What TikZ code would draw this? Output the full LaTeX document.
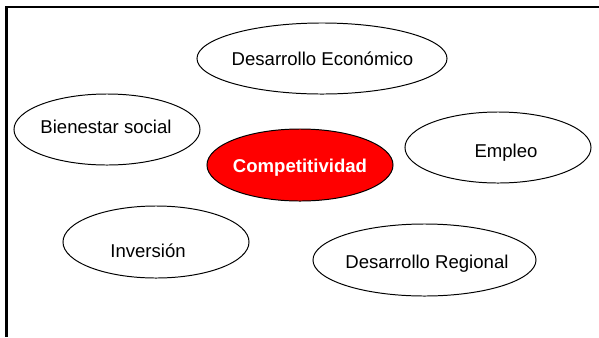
\documentclass[tikz,border=0pt]{standalone}
\usepackage{fontspec}
\setmainfont{Liberation Sans}
\usetikzlibrary{shapes.geometric,positioning}

\begin{document}
\begin{tikzpicture}[x=0.025cm,y=-0.025cm,font=\fontsize{13.2}{15}\selectfont,
		bubble/.style={draw,ellipse,line width=0.7pt,inner sep=0pt,minimum width=4.65cm,minimum height=1.775cm},
		core/.style={bubble,fill=red},
		tag/.style={inner sep=0pt},
		coretag/.style={tag,text=white,font=\fontsize{13.2}{15}\selectfont\bfseries}]
			\useasboundingbox (0,0) rectangle (599,337);
			% frame
			\draw[line width=2.1pt] (599,7) -- (6.5,7) -- (6.5,337);
			% bubbles
			\node[bubble,minimum width=6.25cm,label={[tag,shift={(0.5,0)}]center:Desarrollo Económico}] (econ) at (322,58.5) {};
			\node[bubble,label={[tag,shift={(-1,-3)}]center:Bienestar social}] (bien) at (107,129.5) {};
			\node[core,minimum height=1.8cm,label={[coretag,shift={(0,2.7)}]center:Competitividad}] (comp) at (300,165) {};
			\node[bubble,label={[tag,shift={(8,5)}]center:Empleo}] (empleo) at (498,147.5) {};
			\node[bubble,minimum height=1.8cm,label={[tag,shift={(-8,9)}]center:Inversión}] (inv) at (156,242) {};
			\node[bubble,minimum width=5.575cm,minimum height=1.8cm,label={[tag,shift={(2.5,4)}]center:Desarrollo Regional}] (reg) at (424.5,260) {};
		\end{tikzpicture}
\end{document}
